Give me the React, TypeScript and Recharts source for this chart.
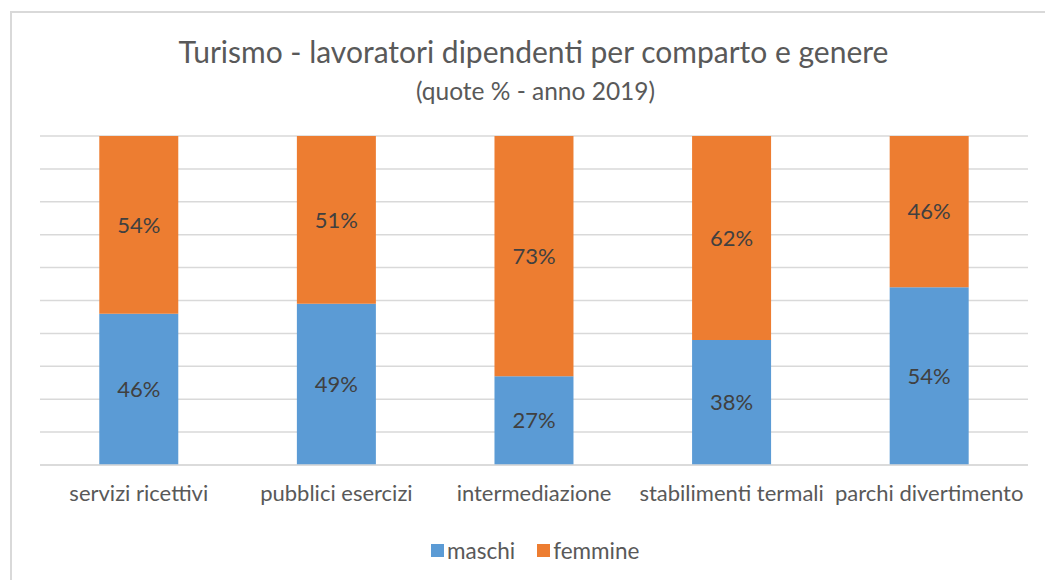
import { BarChart, Bar, XAxis, YAxis, CartesianGrid, LabelList } from "recharts";

const comparti = [
  "servizi ricettivi",
  "pubblici esercizi",
  "intermediazione",
  "stabilimenti termali",
  "parchi divertimento",
];
const maschi = [46, 49, 27, 38, 54];
const femmine = [54, 51, 73, 62, 46];

const data = comparti.map((c, i) => ({ comparto: c, maschi: maschi[i], femmine: femmine[i] }));

const FONT = "Lato, 'Open Sans', sans-serif";
const GRAY = "#595959";
const BLUE = "#5B9BD5";
const ORANGE = "#ED7D31";

const legendItems = [
  { name: "maschi", color: BLUE },
  { name: "femmine", color: ORANGE },
];

export default function App() {
  return (
    <div style={{ position: "absolute", left: 0, top: 0, width: 1045, height: 580, background: "#fff", overflow: "hidden", fontFamily: FONT }}>
      <div style={{ position: "absolute", left: 10, top: 11, width: 1100, height: 700, borderLeft: "2px solid #d9d9d9", borderTop: "2px solid #d9d9d9" }} />
      <div style={{ position: "absolute", left: 11, width: 1045, top: 33, lineHeight: "36px", textAlign: "center", fontSize: 30, color: GRAY }}>
        Turismo - lavoratori dipendenti per comparto e genere
      </div>
      <div style={{ position: "absolute", left: 13, width: 1045, top: 76, lineHeight: "30px", textAlign: "center", fontSize: 24.5, color: GRAY }}>
        (quote % - anno 2019)
      </div>
      <div style={{ position: "absolute", left: 0, top: 0 }}>
        <BarChart width={1045} height={580} data={data} margin={{ top: 136, right: 17, left: 40, bottom: 75 }} barCategoryGap="30%">
          <CartesianGrid vertical={false} stroke="#d9d9d9" strokeWidth={1.5} />
          <XAxis
            dataKey="comparto"
            tickLine={false}
            axisLine={{ stroke: "#d9d9d9", strokeWidth: 1.5 }}
            interval={0}
            height={40}
            tick={{ fontSize: 22, fill: GRAY, fontFamily: FONT, dy: 12 }}
          />
          <YAxis hide domain={[0, 100]} ticks={[0, 10, 20, 30, 40, 50, 60, 70, 80, 90, 100]} />
          <Bar dataKey="maschi" name="maschi" stackId="a" fill={BLUE} isAnimationActive={false}>
            <LabelList dataKey="maschi" position="center" formatter={(v) => `${v}%`} fill="#404040" fontSize={22} fontFamily={FONT} />
          </Bar>
          <Bar dataKey="femmine" name="femmine" stackId="a" fill={ORANGE} isAnimationActive={false}>
            <LabelList dataKey="femmine" position="center" formatter={(v) => `${v}%`} fill="#404040" fontSize={22} fontFamily={FONT} />
          </Bar>
        </BarChart>
      </div>
      <div style={{ position: "absolute", left: 431, top: 536, display: "flex", alignItems: "center", height: 28, fontSize: 22.5, color: GRAY }}>
        {legendItems.map((it) => (
          <div key={it.name} style={{ display: "flex", alignItems: "center", marginRight: 22 }}>
            <span style={{ width: 13, height: 13, background: it.color, marginRight: 3, display: "inline-block" }} />
            <span>{it.name}</span>
          </div>
        ))}
      </div>
    </div>
  );
}
